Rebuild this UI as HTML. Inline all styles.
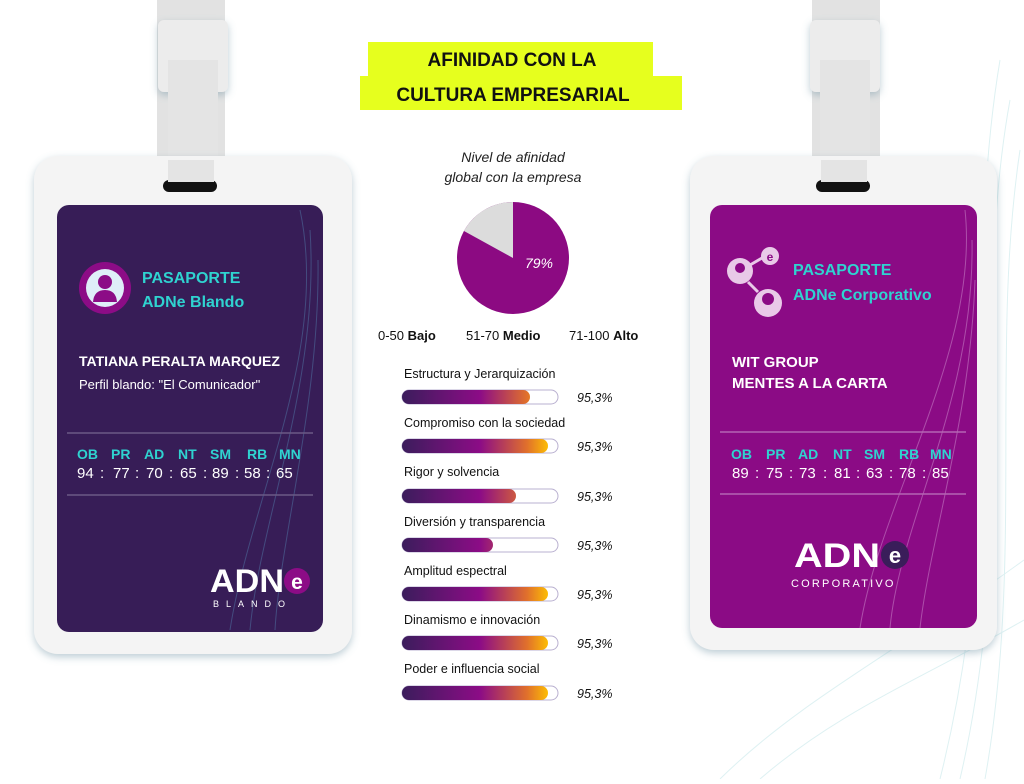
<!DOCTYPE html>
<html><head><meta charset="utf-8"><style>
html,body{margin:0;padding:0;background:#fff;}
body{width:1024px;height:779px;overflow:hidden;font-family:"Liberation Sans",sans-serif;}
</style></head><body>
<svg width="1024" height="779" viewBox="0 0 1024 779" xmlns="http://www.w3.org/2000/svg" font-family="Liberation Sans, sans-serif">
<defs>
<linearGradient id="bg" x1="402" x2="558" y1="0" y2="0" gradientUnits="userSpaceOnUse">
<stop offset="0" stop-color="#3b1d5c"/><stop offset="0.5" stop-color="#8c0c86"/><stop offset="0.8" stop-color="#e0702c"/><stop offset="0.95" stop-color="#ffc400"/>
</linearGradient>
<filter id="sh" x="-20%" y="-20%" width="140%" height="140%"><feDropShadow dx="0" dy="3" stdDeviation="4" flood-color="#6a8fa0" flood-opacity="0.45"/></filter>
</defs>
<g stroke="#d6eef0" fill="none" stroke-width="1" opacity="0.8">
<path d="M1000 60 C 960 300, 1010 500, 940 779"/><path d="M1010 100 C 970 320, 1020 520, 960 779"/><path d="M1020 150 C 990 350, 1024 560, 985 779"/>
<path d="M720 779 C 800 700, 900 650, 1024 560"/><path d="M760 779 C 840 710, 920 680, 1024 620"/>
</g>
<!-- LEFT BADGE -->
<rect x="157" y="0" width="68" height="190" fill="#e2e2e2"/>
<rect x="158" y="20" width="70" height="72" rx="6" fill="#ececec" filter="url(#sh)"/>
<rect x="168" y="60" width="50" height="130" fill="#e4e4e4"/>
<rect x="34" y="156" width="318" height="498" rx="24" fill="#f4f4f4" filter="url(#sh)"/>
<rect x="163" y="180" width="54" height="12" rx="6" fill="#111"/>
<rect x="168" y="160" width="46" height="22" fill="#e4e4e4"/>
<rect x="57" y="205" width="266" height="427" rx="12" fill="#371d57"/>
<g stroke="#4d6a9a" fill="none" opacity="0.6"><path d="M300 210 C 330 350, 250 500, 230 630"/><path d="M310 230 C 320 380, 260 520, 250 630"/><path d="M318 260 C 320 400, 280 540, 275 630"/></g>
<circle cx="105" cy="288" r="26" fill="#8c0c86"/>
<circle cx="105" cy="288" r="19" fill="#dfeef8"/>
<circle cx="105" cy="282" r="7" fill="#8c0c86"/><path d="M93 302 Q94 290 105 290 Q116 290 117 302 Z" fill="#8c0c86"/>
<text x="142" y="283" fill="#2fd3d0" font-size="16" font-weight="bold">PASAPORTE</text>
<text x="142" y="307" fill="#2fd3d0" font-size="16" font-weight="bold">ADNe Blando</text>
<text x="79" y="366" fill="#fff" font-size="14" font-weight="bold">TATIANA PERALTA MARQUEZ</text>
<text x="79" y="389" fill="#fff" font-size="13">Perfil blando: "El Comunicador"</text>
<line x1="67" y1="433" x2="313" y2="433" stroke="#6b5a85" stroke-width="1.5"/>
<g fill="#2fd3d0" font-size="14" font-weight="bold"><text x="77" y="459">OB</text><text x="111" y="459">PR</text><text x="144" y="459">AD</text><text x="178" y="459">NT</text><text x="210" y="459">SM</text><text x="247" y="459">RB</text><text x="279" y="459">MN</text></g>
<g fill="#fff" font-size="15"><text x="77" y="478">94</text><text x="100" y="478">:</text><text x="113" y="478">77</text><text x="135" y="478">:</text><text x="146" y="478">70</text><text x="169" y="478">:</text><text x="180" y="478">65</text><text x="203" y="478">:</text><text x="212" y="478">89</text><text x="235" y="478">:</text><text x="244" y="478">58</text><text x="266" y="478">:</text><text x="276" y="478">65</text></g>
<line x1="67" y1="495" x2="313" y2="495" stroke="#6b5a85" stroke-width="1.5"/>
<text x="210" y="592" fill="#fff" font-size="32" font-weight="bold" textLength="74" lengthAdjust="spacingAndGlyphs">ADN</text>
<circle cx="297" cy="581" r="13" fill="#8c0c86"/><text x="297" y="589" fill="#fff" font-size="21" font-weight="bold" text-anchor="middle">e</text>
<text x="213" y="607" fill="#fff" font-size="9" letter-spacing="7">BLANDO</text>
<!-- RIGHT BADGE -->
<rect x="812" y="0" width="68" height="190" fill="#e2e2e2"/>
<rect x="810" y="20" width="70" height="72" rx="6" fill="#ececec" filter="url(#sh)"/>
<rect x="820" y="60" width="50" height="130" fill="#e4e4e4"/>
<rect x="690" y="156" width="307" height="494" rx="24" fill="#f4f4f4" filter="url(#sh)"/>
<rect x="816" y="180" width="54" height="12" rx="6" fill="#111"/>
<rect x="821" y="160" width="46" height="22" fill="#e4e4e4"/>
<rect x="710" y="205" width="267" height="423" rx="12" fill="#8b0b85"/>
<g stroke="#c47cc4" fill="none" opacity="0.6"><path d="M965 210 C 980 350, 880 500, 860 628"/><path d="M972 240 C 975 400, 900 520, 890 628"/><path d="M975 280 C 970 420, 930 540, 920 628"/></g>
<g fill="#e9c9e8"><circle cx="740" cy="271" r="13"/><circle cx="768" cy="303" r="14"/><circle cx="770" cy="256" r="9"/></g>
<line x1="750" y1="265" x2="762" y2="258" stroke="#e9c9e8" stroke-width="3"/><line x1="748" y1="282" x2="758" y2="292" stroke="#e9c9e8" stroke-width="3"/>
<text x="770" y="261" fill="#8b0b85" font-size="12" font-weight="bold" text-anchor="middle">e</text>
<circle cx="740" cy="268" r="5" fill="#8b0b85"/><circle cx="768" cy="299" r="6" fill="#8b0b85"/>
<text x="793" y="275" fill="#2fd3d0" font-size="16" font-weight="bold">PASAPORTE</text>
<text x="793" y="300" fill="#2fd3d0" font-size="16" font-weight="bold">ADNe Corporativo</text>
<text x="732" y="367" fill="#fff" font-size="15" font-weight="bold">WIT GROUP</text>
<text x="732" y="388" fill="#fff" font-size="15" font-weight="bold">MENTES A LA CARTA</text>
<line x1="720" y1="432" x2="966" y2="432" stroke="#b565b3" stroke-width="1.5"/>
<g fill="#2fd3d0" font-size="14" font-weight="bold"><text x="731" y="459">OB</text><text x="766" y="459">PR</text><text x="798" y="459">AD</text><text x="833" y="459">NT</text><text x="864" y="459">SM</text><text x="899" y="459">RB</text><text x="930" y="459">MN</text></g>
<g fill="#fff" font-size="15"><text x="732" y="478">89</text><text x="755" y="478">:</text><text x="766" y="478">75</text><text x="789" y="478">:</text><text x="799" y="478">73</text><text x="823" y="478">:</text><text x="834" y="478">81</text><text x="856" y="478">:</text><text x="866" y="478">63</text><text x="889" y="478">:</text><text x="899" y="478">78</text><text x="922" y="478">:</text><text x="932" y="478">85</text></g>
<line x1="720" y1="494" x2="966" y2="494" stroke="#b565b3" stroke-width="1.5"/>
<text x="794" y="567" fill="#fff" font-size="34" font-weight="bold" textLength="86" lengthAdjust="spacingAndGlyphs">ADN</text>
<circle cx="895" cy="555" r="14" fill="#3a1d5a"/><text x="895" y="563" fill="#fff" font-size="22" font-weight="bold" text-anchor="middle">e</text>
<text x="791" y="587" fill="#fff" font-size="11" letter-spacing="2.2">CORPORATIVO</text>
<!-- TITLE -->
<rect x="368" y="42" width="285" height="34" fill="#e6ff1e"/>
<rect x="360" y="76" width="322" height="34" fill="#e6ff1e"/>
<text x="512" y="66" font-size="19" font-weight="bold" text-anchor="middle" fill="#111">AFINIDAD CON LA</text>
<text x="513" y="101" font-size="19" font-weight="bold" text-anchor="middle" fill="#111">CULTURA EMPRESARIAL</text>
<text x="513" y="162" font-size="14" font-style="italic" text-anchor="middle" fill="#222">Nivel de afinidad</text>
<text x="513" y="182" font-size="14" font-style="italic" text-anchor="middle" fill="#222">global con la empresa</text>
<circle cx="513" cy="258" r="56" fill="#8c0a82"/>
<path d="M513 258 L513 202 A56 56 0 0 0 464 231 Z" fill="#dcdcdc"/>
<text x="539" y="268" font-size="14" font-style="italic" fill="#fff" text-anchor="middle">79%</text>
<text x="378" y="340" font-size="13" fill="#111">0-50 <tspan font-weight="bold">Bajo</tspan></text>
<text x="466" y="340" font-size="13" fill="#111">51-70 <tspan font-weight="bold">Medio</tspan></text>
<text x="569" y="340" font-size="13" fill="#111">71-100 <tspan font-weight="bold">Alto</tspan></text>
<!-- BARS -->
<g font-size="12.5" fill="#111">
<g><text x="404" y="378">Estructura y Jerarquización</text><rect x="402" y="390" width="156" height="14" rx="7" fill="#fff" stroke="#b9b0d0"/><rect x="402" y="390" width="128" height="14" rx="7" fill="url(#bg)"/><text x="577" y="402" font-style="italic">95,3%</text></g>
<g><text x="404" y="427">Compromiso con la sociedad</text><rect x="402" y="439" width="156" height="14" rx="7" fill="#fff" stroke="#b9b0d0"/><rect x="402" y="439" width="146" height="14" rx="7" fill="url(#bg)"/><text x="577" y="451" font-style="italic">95,3%</text></g>
<g><text x="404" y="476">Rigor y solvencia</text><rect x="402" y="489" width="156" height="14" rx="7" fill="#fff" stroke="#b9b0d0"/><rect x="402" y="489" width="114" height="14" rx="7" fill="url(#bg)"/><text x="577" y="501" font-style="italic">95,3%</text></g>
<g><text x="404" y="526">Diversión y transparencia</text><rect x="402" y="538" width="156" height="14" rx="7" fill="#fff" stroke="#b9b0d0"/><rect x="402" y="538" width="91" height="14" rx="7" fill="url(#bg)"/><text x="577" y="550" font-style="italic">95,3%</text></g>
<g><text x="404" y="575">Amplitud espectral</text><rect x="402" y="587" width="156" height="14" rx="7" fill="#fff" stroke="#b9b0d0"/><rect x="402" y="587" width="146" height="14" rx="7" fill="url(#bg)"/><text x="577" y="599" font-style="italic">95,3%</text></g>
<g><text x="404" y="624">Dinamismo e innovación</text><rect x="402" y="636" width="156" height="14" rx="7" fill="#fff" stroke="#b9b0d0"/><rect x="402" y="636" width="146" height="14" rx="7" fill="url(#bg)"/><text x="577" y="648" font-style="italic">95,3%</text></g>
<g><text x="404" y="673">Poder e influencia social</text><rect x="402" y="686" width="156" height="14" rx="7" fill="#fff" stroke="#b9b0d0"/><rect x="402" y="686" width="146" height="14" rx="7" fill="url(#bg)"/><text x="577" y="698" font-style="italic">95,3%</text></g>
</g>
</svg>
</body></html>
